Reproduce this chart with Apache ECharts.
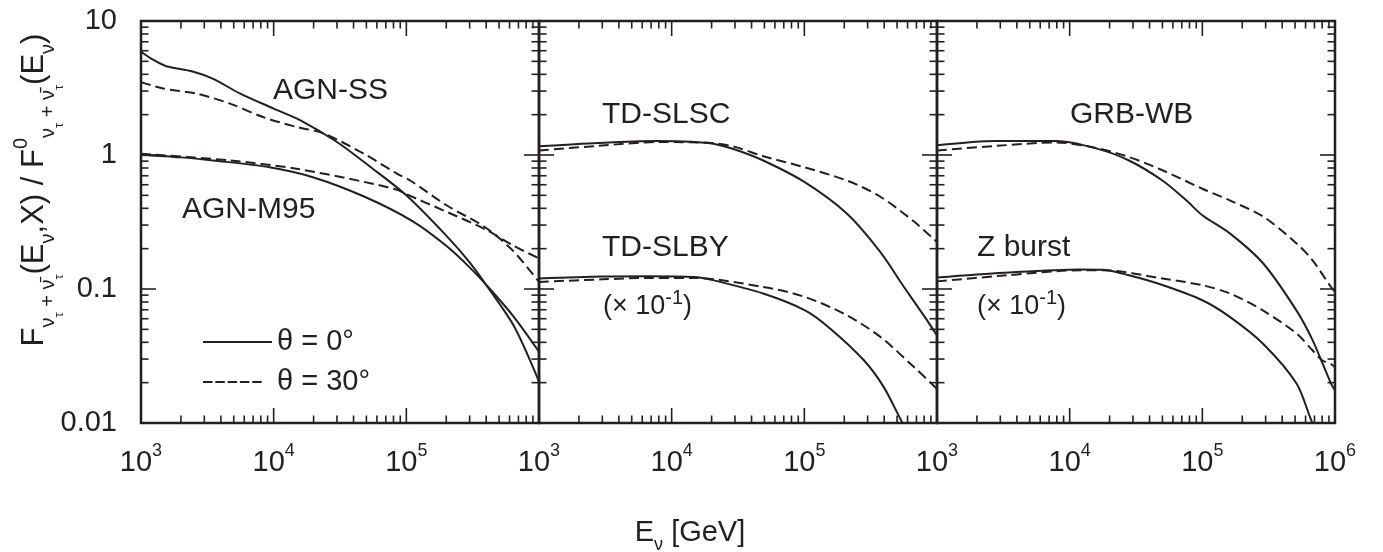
<!DOCTYPE html>
<html><head><meta charset="utf-8">
<script src="https://cdn.jsdelivr.net/npm/echarts@6/dist/echarts.min.js"></script>
<style>html,body{margin:0;padding:0;background:#fff}#c{width:1383px;height:552px}</style>
</head><body><div id="c"></div><script>
// ---------------- data ----------------
const xTickValues = [1000, 10000, 100000, 1000000];
const xTickExponents = ['3', '4', '5', '6'];
const yTickValues = [0.01, 0.1, 1, 10];
const yTickLabels = ['0.01', '0.1', '1', '10'];
const xMinorTicks = [2000,3000,4000,5000,6000,7000,8000,9000,
  20000,30000,40000,50000,60000,70000,80000,90000,
  200000,300000,400000,500000,600000,700000,800000,900000];
const yMinorTicks = [0.02,0.03,0.04,0.05,0.06,0.07,0.08,0.09,
  0.2,0.3,0.4,0.5,0.6,0.7,0.8,0.9, 2,3,4,5,6,7,8,9];

// Panel 1 (AGN)
const agnSS_theta0 = [[1000,5.9],[1250,5.1],[1550,4.6],[2450,4.2],[3500,3.7],[5600,2.87],[10000,2.22],[15800,1.82],[30000,1.25],[54000,0.81],[100000,0.5],[200000,0.25],[300000,0.158],[420000,0.1],[650000,0.0525],[1000000,0.0204]];
const agnSS_theta30 = [[1000,3.5],[1480,3.13],[2630,2.87],[4680,2.42],[8300,1.92],[14800,1.62],[23700,1.45],[48000,1.02],[85000,0.726],[107000,0.645],[202000,0.42],[390000,0.29],[630000,0.195],[1000000,0.113]];
const agnM95_theta0 = [[1000,1.0],[2000,0.96],[3500,0.91],[9300,0.81],[20000,0.68],[48000,0.49],[112000,0.32],[200000,0.21],[300000,0.145],[427000,0.1],[646000,0.062],[1000000,0.034]];
const agnM95_theta30 = [[1000,1.02],[4700,0.91],[14800,0.79],[48000,0.63],[85000,0.55],[100000,0.51],[202000,0.376],[390000,0.28],[646000,0.21],[1000000,0.169]];
// Panel 2 (TD)
const tdSLSC_theta0 = [[1000,1.16],[2800,1.23],[7800,1.27],[14000,1.255],[21000,1.21],[30000,1.10],[49000,0.91],[100000,0.63],[209000,0.366],[372000,0.19],[562000,0.104],[794000,0.0635],[1000000,0.045]];
const tdSLSC_theta30 = [[1000,1.08],[2800,1.17],[7800,1.25],[14000,1.245],[21000,1.225],[30000,1.15],[49000,0.98],[100000,0.81],[209000,0.645],[372000,0.49],[667000,0.32],[1000000,0.224]];
const tdSLBY_theta0 = [[1000,0.12],[3000,0.124],[6500,0.1245],[14700,0.123],[20800,0.116],[49000,0.0925],[102000,0.069],[157000,0.0506],[280000,0.0295],[396000,0.0186],[550000,0.01],[640000,0.0078]];
const tdSLBY_theta30 = [[1000,0.113],[3000,0.118],[6500,0.121],[14700,0.121],[49000,0.1035],[102000,0.087],[209000,0.0637],[374000,0.0439],[667000,0.0263],[1000000,0.018]];
// Panel 3 (GRB, Z burst)
const grbWB_theta0 = [[1000,1.18],[2800,1.27],[7900,1.27],[15800,1.12],[28000,0.91],[50000,0.645],[76000,0.457],[100000,0.355],[162000,0.259],[288000,0.155],[513000,0.069],[676000,0.0417],[933000,0.0197],[1000000,0.0175]];
const grbWB_theta30 = [[1000,1.08],[2800,1.17],[7900,1.24],[15800,1.13],[28000,0.966],[50000,0.77],[100000,0.56],[162000,0.457],[288000,0.347],[513000,0.219],[676000,0.164],[933000,0.1035],[1000000,0.095]];
const zBurst_theta0 = [[1000,0.1216],[3200,0.132],[12000,0.14],[17800,0.139],[28000,0.1265],[50000,0.107],[100000,0.0824],[162000,0.0617],[288000,0.0389],[513000,0.0197],[676000,0.01],[760000,0.0085]];
const zBurst_theta30 = [[1000,0.114],[3200,0.126],[12000,0.138],[17800,0.138],[50000,0.12],[100000,0.1067],[162000,0.0925],[288000,0.069],[513000,0.0465],[676000,0.0349],[794000,0.0295],[933000,0.0275],[1000000,0.026]];

const legendNames = ['θ = 0°', 'θ = 30°'];

// ---------------- chart ----------------
const FONT = '"Liberation Sans", Arial, Helvetica, sans-serif';
const INK = '#231f20';

const chart = echarts.init(document.getElementById('c'), null, {renderer: 'canvas'});

const grids = [0, 1, 2].map(i => ({
  left: 141 + i * 398, top: 21, width: 398, height: 402,
  show: true, borderColor: INK, borderWidth: 2.5, backgroundColor: 'transparent'
}));

function nearestIndex(arr, v) {
  let best = 0, bd = Infinity;
  arr.forEach((t, i) => { const d = Math.abs(Math.log10(t) - Math.log10(v)); if (d < bd) { bd = d; best = i; } });
  return best;
}

const xAxes = [0, 1, 2].map(i => ({
  type: 'log', logBase: 10, gridIndex: i, min: 1000, max: 1000000,
  axisLine: {show: false}, axisTick: {show: false}, splitLine: {show: false},
  axisLabel: {
    show: true, showMinLabel: true, showMaxLabel: i === 2, margin: 40, verticalAlign: 'middle',
    formatter: v => '{b|10}{s|' + xTickExponents[nearestIndex(xTickValues, v)] + '}',
    rich: {
      b: {fontSize: 29, verticalAlign: 'middle', fontFamily: FONT, color: INK},
      s: {fontSize: 18, verticalAlign: 'middle', padding: [0, 0, 24, 0], fontFamily: FONT, color: INK}
    }
  }
}));
const yAxes = [0, 1, 2].map(i => ({
  type: 'log', logBase: 10, gridIndex: i, min: 0.01, max: 10,
  axisLine: {show: false}, axisTick: {show: false}, splitLine: {show: false},
  axisLabel: {
    show: i === 0, margin: 24, fontSize: 29, fontFamily: FONT, color: INK,
    formatter: v => yTickLabels[nearestIndex(yTickValues, v)]
  }
}));

function lineSeries(data, g, dashed) {
  return {
    type: 'line', name: dashed ? legendNames[1] : legendNames[0],
    xAxisIndex: g, yAxisIndex: g, data: data,
    symbol: 'none', showSymbol: false, smooth: 0.3,
    color: INK, itemStyle: {color: INK},
    lineStyle: {color: INK, width: 2, type: dashed ? [10, 5] : 'solid', join: 'round'},
    clip: true, silent: true, z: 3
  };
}

function tickRender(params, api) {
  const k = api.value(2);
  const st = {stroke: INK, lineWidth: 1.6};
  if (k < 2) {
    const v = api.value(0);
    const pTop = api.coord([v, 10]);
    const pBot = api.coord([v, 0.01]);
    const len = k === 1 ? 15 : 7.5;
    return {type: 'group', children: [
      {type: 'line', shape: {x1: pBot[0], y1: pBot[1], x2: pBot[0], y2: pBot[1] - len}, style: st},
      {type: 'line', shape: {x1: pTop[0], y1: pTop[1], x2: pTop[0], y2: pTop[1] + len}, style: st}
    ]};
  } else {
    const v = api.value(1);
    const pL = api.coord([1000, v]);
    const pR = api.coord([1000000, v]);
    const len = k === 3 ? 15 : 7.5;
    return {type: 'group', children: [
      {type: 'line', shape: {x1: pL[0], y1: pL[1], x2: pL[0] + len, y2: pL[1]}, style: st},
      {type: 'line', shape: {x1: pR[0], y1: pR[1], x2: pR[0] - len, y2: pR[1]}, style: st}
    ]};
  }
}
function tickSeries(g) {
  const data = [];
  xTickValues.forEach(v => data.push([v, 1, 1]));
  xMinorTicks.forEach(v => data.push([v, 1, 0]));
  yTickValues.forEach(v => data.push([10000, v, 3]));
  yMinorTicks.forEach(v => data.push([10000, v, 2]));
  return {type: 'custom', name: 'ticks' + g, xAxisIndex: g, yAxisIndex: g, data: data,
    renderItem: tickRender, silent: true, z: 5, clip: false};
}

const series = [
  lineSeries(agnSS_theta0, 0, false), lineSeries(agnSS_theta30, 0, true),
  lineSeries(agnM95_theta0, 0, false), lineSeries(agnM95_theta30, 0, true),
  lineSeries(tdSLSC_theta0, 1, false), lineSeries(tdSLSC_theta30, 1, true),
  lineSeries(tdSLBY_theta0, 1, false), lineSeries(tdSLBY_theta30, 1, true),
  lineSeries(grbWB_theta0, 2, false), lineSeries(grbWB_theta30, 2, true),
  lineSeries(zBurst_theta0, 2, false), lineSeries(zBurst_theta30, 2, true),
  tickSeries(0), tickSeries(1), tickSeries(2)
];

function label(x, y, text) {
  return {type: 'text', x: x, y: y, silent: true, z: 10,
    style: {text: text, fill: INK, fontSize: 30, fontFamily: FONT, align: 'left', verticalAlign: 'middle'}};
}
function scaleLabel(x, y) {
  return {type: 'text', x: x, y: y, silent: true, z: 10,
    style: {text: '{m|(× 10}{s|-1}{m|)}', fill: INK, align: 'left', verticalAlign: 'middle',
      rich: {
        m: {fontSize: 27, verticalAlign: 'middle', fontFamily: FONT, fill: INK},
        s: {fontSize: 20, verticalAlign: 'middle', padding: [0, 0, 16, 0], fontFamily: FONT, fill: INK}
      }}};
}

const yTitleRich = {
  m: {fontSize: 31, verticalAlign: 'middle', fontFamily: FONT, fill: INK},
  s: {fontSize: 20, verticalAlign: 'middle', padding: [28, 0, 0, 0], fontFamily: FONT, fill: INK},
  t: {fontSize: 13, verticalAlign: 'middle', padding: [50, 0, 0, 0], fontFamily: FONT, fill: INK},
  p: {fontSize: 20, verticalAlign: 'middle', padding: [0, 0, 26, 0], fontFamily: FONT, fill: INK}
};
const yTitleText = '{m|F}{s|ν}{t|τ}{s| + ν̄}{t|τ}{m|(E}{s|ν}{m|,X) / F}{p|0}{s|ν}{t|τ}{s| + ν̄}{t|τ}{m|(E}{s|ν}{m|)}';

const solidIcon = 'path://M0,0H69V2H0Z';
const dashIcon = 'path://M0,0H9.5V2H0Z M12.3,0H21.8V2H12.3Z M24.6,0H34.1V2H24.6Z M36.9,0H46.4V2H36.9Z M49.2,0H58.7V2H49.2Z M69,0L69,2';

const graphic = [
  label(273, 91, 'AGN-SS'),
  label(182, 209.5, 'AGN-M95'),
  label(602, 114.5, 'TD-SLSC'),
  label(602, 247.5, 'TD-SLBY'),
  label(1070, 114.5, 'GRB-WB'),
  label(977, 247.5, 'Z burst'),
  scaleLabel(603, 306.5),
  scaleLabel(977, 306.5),
  {type: 'text', x: 34, y: 190, rotation: Math.PI / 2, silent: true,
    style: {text: yTitleText, rich: yTitleRich, align: 'center', verticalAlign: 'middle', fill: INK}},
  {type: 'text', x: 690, y: 533, silent: true,
    style: {text: '{m|E}{s|ν}{m| [GeV]}', align: 'center', verticalAlign: 'middle', fill: INK,
      rich: {
        m: {fontSize: 29, verticalAlign: 'middle', fontFamily: FONT, fill: INK},
        s: {fontSize: 18, verticalAlign: 'middle', padding: [25, 0, 0, 0], fontFamily: FONT, fill: INK}
      }}}
];

chart.setOption({
  animation: false,
  backgroundColor: '#ffffff',
  textStyle: {fontFamily: FONT, color: INK},
  grid: grids,
  xAxis: xAxes,
  yAxis: yAxes,
  legend: {
    data: [{name: legendNames[0], icon: solidIcon}, {name: legendNames[1], icon: dashIcon}],
    left: 198, top: 322, orient: 'vertical', symbolKeepAspect: false,
    itemWidth: 69, itemHeight: 2, itemGap: 10, selectedMode: false,
    itemStyle: {color: INK, borderWidth: 0},
    textStyle: {fontSize: 29, lineHeight: 30, fontFamily: FONT, color: INK}
  },
  series: series,
  graphic: graphic
});
</script></body></html>
